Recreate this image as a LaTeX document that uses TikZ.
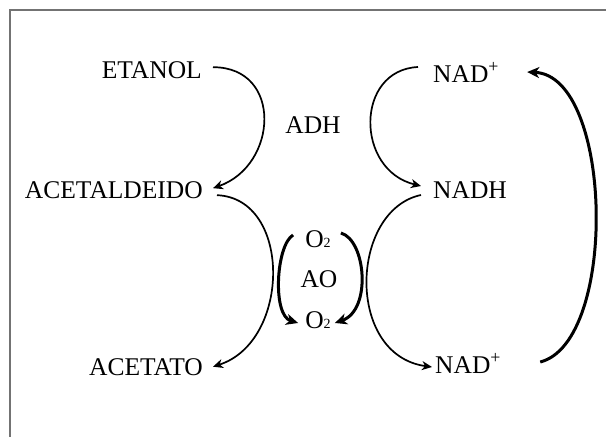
\documentclass[tikz,border=0pt]{standalone}
\usepackage{fontspec}
\setmainfont{Liberation Serif}
\usetikzlibrary{arrows.meta}
\begin{document}
\begin{tikzpicture}[x=1pt,y=-1pt,
  lbl/.style={inner sep=3pt, font=\fontsize{25.5}{30}\selectfont},
  thinarrow/.style={line width=1.7pt, -{Stealth[length=10pt,width=9pt,inset=3pt]}},
  thickarrow/.style={line width=3pt, -{Stealth[length=12pt,width=11pt,inset=3.5pt]}},
  frameline/.style={draw=black!55, line width=1.2pt}]
\useasboundingbox (0,0) rectangle (606,437);
% open frame: top and left edges only
\draw[frameline] (10,437) -- (10,10) -- (606,10);

% metabolites and enzymes
\node[lbl, anchor=base east] (etanol) at (205,78) {ETANOL};
\node[lbl, anchor=base east] (acetal) at (206,198) {ACETALDEIDO};
\node[lbl, anchor=base east] (acetato) at (206,375) {ACETATO};
\node[lbl, anchor=base] (adh) at (313,133) {ADH};
\node[lbl, anchor=base west] (nadtop) at (430,82) {NAD\textsuperscript{+}};
\node[lbl, anchor=base west] (nadh) at (430,198) {NADH};
\node[lbl, anchor=base west] (nadbot) at (432,373) {NAD\textsuperscript{+}};
\node[lbl, anchor=base] (o2top) at (318,247) {O{\fontsize{14}{14}\selectfont 2}};
\node[lbl, anchor=base] (ao) at (319,287) {AO};
\node[lbl, anchor=base] (o2bot) at (318,328) {O{\fontsize{14}{14}\selectfont 2}};

% ethanol -> acetaldehyde
\draw[thinarrow] ([xshift=8pt,yshift=2.5pt]etanol.east)
  .. controls +(70,0) and +(65,-23) .. ([xshift=7pt,yshift=1.5pt]acetal.east);
% acetaldehyde -> acetate
\draw[thinarrow] ([xshift=11pt,yshift=-5.5pt]acetal.east)
  .. controls +(75,3) and +(78,-25) .. ([xshift=7pt]acetato.east);
% oxygen brackets of AO
\draw[thickarrow] ([xshift=-9pt,yshift=12pt]o2top.base west)
  .. controls +(-17,10) and +(-26,-8) .. ([xshift=-4pt,yshift=5pt]o2bot.base west);
\draw[thickarrow] ([xshift=7pt,yshift=14pt]o2top.base east)
  .. controls +(25,7) and +(37,-13) .. ([xshift=1pt,yshift=5pt]o2bot.base east);
% NAD+ -> NADH
\draw[thinarrow] ([xshift=-12pt,yshift=15pt]nadtop.base west)
  .. controls +(-63,3) and +(-66,-16) .. ([xshift=-9pt,yshift=12pt]nadh.base west);
% NADH -> NAD+
\draw[thinarrow] ([xshift=-9pt,yshift=3pt]nadh.base west)
  .. controls +(-71,15) and +(-87,-12) .. ([yshift=6pt]nadbot.base west);
% regeneration loop
\draw[thickarrow] ([xshift=36pt,yshift=11pt]nadbot.base east)
  .. controls +(78,-20) and +(86,4) .. ([xshift=25pt,yshift=10pt]nadtop.base east);
\end{tikzpicture}
\end{document}
